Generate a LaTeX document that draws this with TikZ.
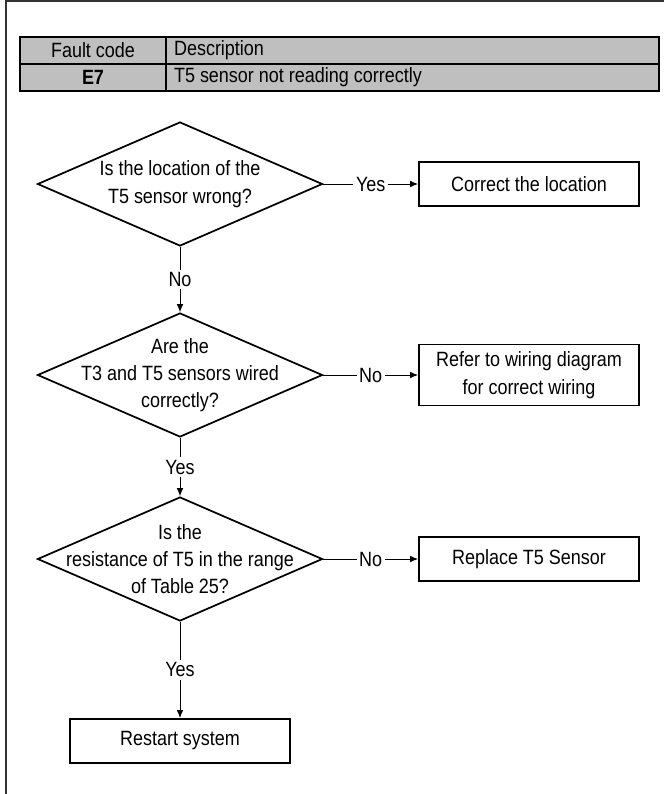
\documentclass[tikz,border=0pt]{standalone}
\usepackage{fontspec}
\setmainfont{Liberation Sans}[FakeStretch=0.87]
\usetikzlibrary{arrows.meta,positioning,shapes.geometric}

\begin{document}
\begin{tikzpicture}[
    x=0.75pt, y=-0.75pt,
    >={Latex[length=6pt,width=5pt]},
    font=\fontsize{15.5pt}{20.5pt}\selectfont,
    cell/.style={draw, line width=1pt, fill=black!25, minimum height=20.25pt, inner sep=0pt},
    decision/.style={draw, diamond, line width=1.3pt, minimum width=213.75pt, minimum height=93pt, inner sep=0pt},
    qtext/.style={align=center, inner sep=0pt},
    act/.style={draw, line width=1.4pt, minimum width=165pt, minimum height=33pt, align=center},
    arr/.style={->, line width=0.75pt},
    lbl/.style={fill=white, inner sep=2pt}
]
    \useasboundingbox (0,0) rectangle (664,794);
    \draw[line width=1.2pt, black!80] (664,1) -- (6,1) -- (6,794);

    % fault table
    \node[cell, minimum width=109.5pt] (hcode) at (93,50.5) {Fault code};
    \node[cell, minimum width=369.75pt] (hdesc) at (412.5,50.5) {};
    \node[cell, minimum width=109.5pt] (rcode) at (93,77.5) {\textbf{E7}};
    \node[cell, minimum width=369.75pt] (rdesc) at (412.5,77.5) {};
    \node[anchor=west] (hdesctxt) at ([xshift=3pt]hdesc.west) {Description};
    \node[anchor=west] (rdesctxt) at ([xshift=3pt]rdesc.west) {T5 sensor not reading correctly};

    % checks
    \node[decision] (q1) at (180,184) {};
    \node[qtext] (q1txt) at (q1) {Is the location of the\\T5 sensor wrong?};
    \node[decision] (q2) at (180,375) {};
    \node[qtext] (q2txt) at (q2) {Are the\\T3 and T5 sensors wired\\correctly?};
    \node[decision] (q3) at (180,559) {};
    \node[qtext] (q3txt) at (q3) {Is the\\resistance of T5 in the range\\of Table 25?};

    % actions
    \node[act] (a1) at (529,184) {Correct the location};
    \node[act, minimum height=45.75pt] (a2) at (529,375) {Refer to wiring diagram\\for correct wiring};
    \node[act] (a3) at (529,559) {Replace T5 Sensor};
    \node[act] (restart) at (180,741) {Restart system};

    \draw[arr] (q1.east) -- node[lbl] {Yes} (a1.west);
    \draw[arr] (q1.south) -- node[lbl] {No} (q2.north);
    \draw[arr] (q2.east) -- node[lbl] {No} (a2.west);
    \draw[arr] (q2.south) -- node[lbl] {Yes} (q3.north);
    \draw[arr] (q3.east) -- node[lbl] {No} (a3.west);
    \draw[arr] (q3.south) -- node[lbl] {Yes} (restart.north);
\end{tikzpicture}
\end{document}
